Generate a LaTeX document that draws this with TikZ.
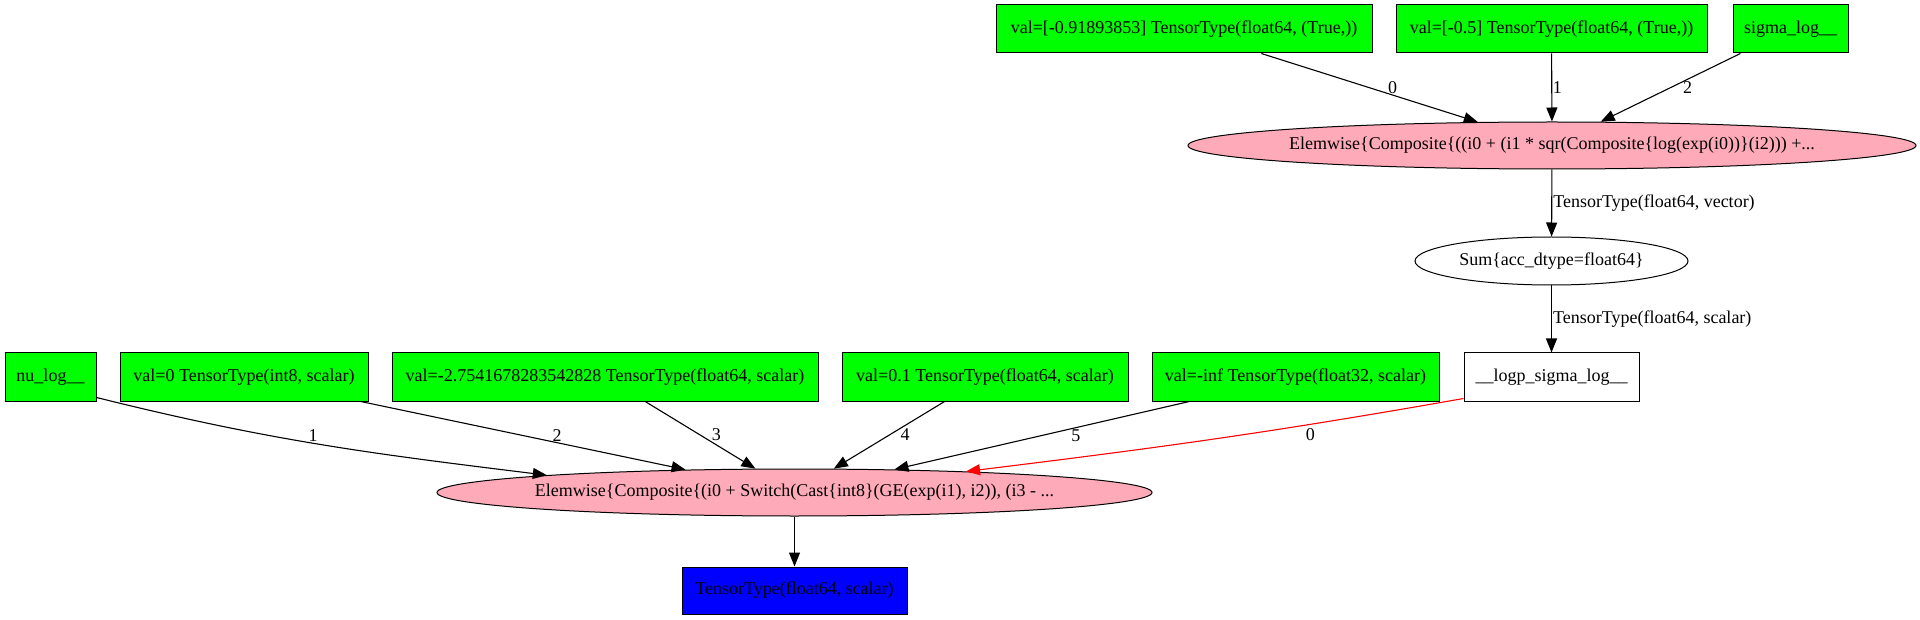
\documentclass[tikz,border=0pt]{standalone}
\usepackage{fontspec}
\setmainfont{Liberation Serif}
\usetikzlibrary{arrows.meta,shapes.geometric}
\definecolor{leafgreen}{RGB}{0,255,0}
\definecolor{oppink}{RGB}{255,170,185}
\definecolor{outblue}{RGB}{0,0,255}
\definecolor{gradred}{RGB}{255,0,0}

\begin{document}
\begin{tikzpicture}[x=1pt,y=1pt,
  font=\fontsize{18}{20}\selectfont,
  leaf/.style={draw,fill=leafgreen,line width=1pt,minimum height=48pt,inner sep=0pt},
  var/.style={draw,fill=white,line width=1pt,minimum height=48pt,inner sep=0pt},
  outp/.style={draw,fill=outblue,line width=1pt,minimum height=47pt,inner sep=0pt},
  op/.style={ellipse,draw,fill=oppink,line width=1pt,minimum height=47pt,
             inner xsep=-40pt,inner ysep=0pt},
  plainop/.style={ellipse,draw,line width=1pt,minimum height=48pt,inner sep=0pt},
  ar/.style={-{Triangle[length=14pt,width=11pt]},line width=1.1pt},
  elab/.style={inner sep=0pt,text=black}]

\useasboundingbox (0,0) rectangle (1920,-620);

\node[leaf,minimum width=376pt] (A) at (1184,-29) {val=[-0.91893853] TensorType(float64, (True,))};
\node[leaf,minimum width=311pt] (B) at (1551.5,-29) {val=[-0.5] TensorType(float64, (True,))};
\node[leaf,minimum width=115pt] (C) at (1790.5,-29) {sigma\_log\_\_};

\node[op,minimum width=728pt] (E1) at (1552,-145.5)
  {Elemwise\{Composite\{((i0 + (i1 * sqr(Composite\{log(exp(i0))\}(i2))) +...};
\node[plainop,minimum width=273pt] (sum) at (1551.5,-261) {Sum\{acc\_dtype=float64\}};
\node[var,minimum width=175pt] (logp) at (1551.5,-377) {\_\_logp\_sigma\_log\_\_};

\node[leaf,minimum width=91pt] (nu) at (50.5,-377) {nu\_log\_\_};
\node[leaf,minimum width=248pt] (v0) at (244,-377) {val=0 TensorType(int8, scalar)};
\node[leaf,minimum width=426pt] (v275) at (605,-377) {val=-2.7541678283542828 TensorType(float64, scalar)};
\node[leaf,minimum width=286pt] (v01) at (985,-377) {val=0.1 TensorType(float64, scalar)};
\node[leaf,minimum width=287pt] (vinf) at (1295.5,-377) {val=-inf TensorType(float32, scalar)};

\node[op,minimum width=715pt] (E2) at (794.5,-492.5)
  {Elemwise\{Composite\{(i0 + Switch(Cast\{int8\}(GE(exp(i1), i2)), (i3 - ...};
\node[outp,minimum width=225pt] (out) at (794.5,-590.5) {TensorType(float64, scalar)};

\draw[ar] (A) -- node[elab,xshift=23pt] {0} (E1);
\draw[ar] (B) -- node[elab,right=0.5pt] {1} (E1);
\draw[ar] (C) -- node[elab,xshift=17pt] {2} (E1);
\draw[ar] (E1) -- node[elab,right=1pt] {TensorType(float64, vector)} (sum);
\draw[ar] (sum) -- node[elab,right=1pt] {TensorType(float64, scalar)} (logp);

\draw[ar] ([yshift=4pt]nu.south east) to[out=-14,in=173]
  node[elab,xshift=-7pt,yshift=9pt] {1} (E2.176);
\draw[ar] (v0) -- node[elab,xshift=34pt] {2} (E2);
\draw[ar] (v275) -- node[elab,xshift=16pt] {3} (E2);
\draw[ar] (v01) -- node[elab,xshift=16pt] {4} (E2);
\draw[ar] (vinf) -- node[elab,xshift=34pt] {5} (E2);
\draw[ar,gradred] ([yshift=3pt]logp.south west) to[out=190,in=7]
  node[elab,xshift=95pt,yshift=4pt] {0} (E2.7);
\draw[ar] (E2) -- (out);
\end{tikzpicture}
\end{document}
